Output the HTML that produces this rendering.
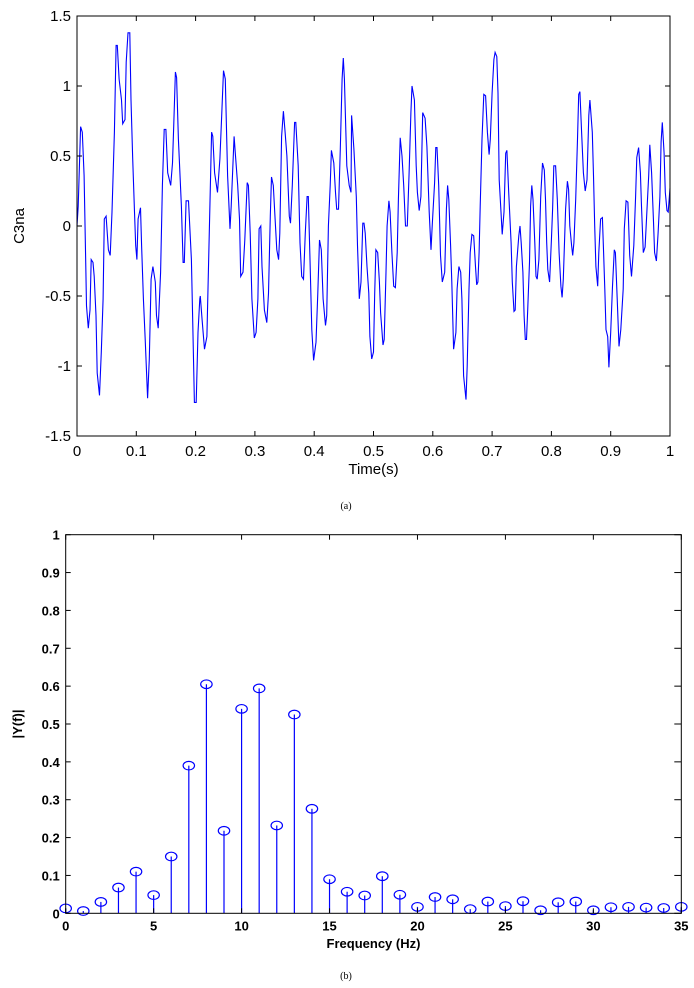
<!DOCTYPE html>
<html><head><meta charset="utf-8">
<style>
html,body{margin:0;padding:0;background:#fff;}
svg{display:block;font-family:"Liberation Sans",Arial,sans-serif;}
</style></head>
<body>
<svg id="fig" width="694" height="988" viewBox="0 0 694 988">
<g id="topchart"></g>
<g id="botchart"></g>
<text x="346" y="509" font-family="Liberation Serif,serif" font-size="10" text-anchor="middle">(a)</text>
<text x="346" y="979" font-family="Liberation Serif,serif" font-size="10" text-anchor="middle">(b)</text>
</svg>
<script>
const timeVals=[0,.002,.006,.009,.012,.015,.016,.019,.022,.024,.027,.029,.032,.034,.038,.041,.044,.046,.049,.053,.056,.059,.063,.066,.068,.071,.075,.077,.081,.083,.086,.089,.091,.094,.097,.099,.101,.103,.107,.109,.112,.115,.119,.122,.125,.128,.132,.134,.137,.141,.144,.147,.150,.153,.158,.161,.163,.166,.168,.171,.176,.179,.181,.184,.188,.193,.195,.198,.201,.204,.207,.208,.211,.215,.219,.222,.227,.229,.232,.237,.241,.244,.247,.250,.254,.258,.260,.265,.267,.271,.274,.276,.280,.283,.287,.289,.292,.295,.299,.302,.305,.307,.310,.312,.316,.320,.323,.326,.328,.331,.334,.337,.340,.342,.345,.348,.351,.354,.358,.360,.363,.367,.369,.373,.376,.379,.382,.385,.388,.390,.393,.396,.399,.403,.406,.409,.412,.415,.419,.421,.424,.427,.429,.433,.436,.438,.441,.444,.447,.449,.451,.455,.459,.462,
.463,.467,.471,.473,.476,.479,.482,.484,.486,.489,.492,.494,.497,.500,.502,.504,.507,.510,.512,.516,.518,.521,.523,.526,.528,.531,.534,.537,.540,.542,.545,.548,.551,.554,.557,.560,.563,.565,.569,.572,.574,.577,.580,.583,.587,.590,.594,.597,.599,.603,.605,.607,.610,.613,.616,.620,.623,.625,.627,.630,.632,.635,.639,.641,.644,.647,.649,.652,.656,.658,.661,.663,.666,.669,.672,.674,.676,.678,.680,.683,.686,.689,.692,.695,.697,.700,.703,.705,.708,.710,.712,.715,.717,.720,.723,.725,.728,.732,.734,.737,.739,.741,.745,.747,.749,.752,.754,.756,.758,.760,.763,.765,.767,.769,.772,.774,.776,.779,.782,.785,.788,.790,.792,.794,.797,.800,.802,.804,.807,.810,.813,.816,.818,.820,.824,.827,.829,.831,.834,.836,.838,.841,.844,.846,.848,.851,.854,.857,.860,.863,.865,.869,.871,.873,.875,.878,.880,.883,.886,.888,.890,.892,.895,.897,.900,.903,.906,.908,.911,.914,.917,.921,.923,.926,.929,.932,.935,.939,.942,.944,.947,.950,.952,.955,.958,.962,.964,.966,.969,.972,.974,.977,.980,.983,.985,.987,.990,.992,.995,.997,1.0];
const signalVals=[0,.14,.71,.67,.36,-.33,-.57,-.73,-.60,-.24,-.26,-.36,-.64,-1.05,-1.21,-.90,-.52,.05,.07,-.17,-.21,.10,.67,1.29,1.29,1.05,.90,.73,.76,1.17,1.38,1.38,.90,.48,.10,-.14,-.24,.05,.13,-.14,-.52,-.81,-1.23,-.95,-.38,-.29,-.40,-.64,-.73,-.33,.29,.69,.69,.38,.29,.45,.71,1.10,1.06,.62,.14,-.26,-.26,.18,.18,-.24,-.64,-1.26,-1.26,-.76,-.52,-.50,-.67,-.88,-.79,-.26,.67,.64,.38,.24,.48,.79,1.11,1.05,.36,-.02,.14,.64,.52,.29,.05,-.36,-.33,-.10,.31,.29,-.05,-.52,-.80,-.76,-.52,-.02,0,-.29,-.60,-.69,-.48,.07,.35,.29,.05,-.17,-.24,-.05,.64,.82,.67,.50,.07,.02,.29,.74,.74,.43,-.12,-.36,-.38,-.05,.21,.21,-.24,-.74,-.96,-.83,-.48,-.10,-.17,-.52,-.71,-.64,0,.29,.54,.45,.24,.12,.12,.55,1.05,1.20,1.05,.43,.29,.24,
.79,.55,.21,-.14,-.52,-.40,.02,.02,-.05,-.29,-.48,-.79,-.95,-.90,-.48,-.17,-.19,-.40,-.62,-.85,-.81,-.33,0,.18,.10,-.19,-.43,-.44,-.19,.19,.63,.50,.29,0,0,.38,.81,1.0,.90,.43,.24,.11,.21,.81,.77,.57,.10,-.17,0,.31,.56,.56,.29,-.21,-.40,-.33,.12,.29,.19,-.14,-.40,-.88,-.76,-.45,-.29,-.33,-.52,-1.07,-1.24,-1.0,-.45,-.19,-.06,-.07,-.29,-.42,-.40,-.19,.14,.62,.94,.93,.67,.51,.62,.95,1.19,1.24,1.21,.95,.33,.10,-.06,.10,.52,.54,.24,-.12,-.40,-.61,-.60,-.29,-.07,0,-.12,-.33,-.64,-.81,-.81,-.60,-.26,.14,.29,.19,-.12,-.36,-.38,-.24,.21,.45,.40,.19,-.12,-.31,-.40,-.10,.12,.43,.43,.19,-.19,-.43,-.51,-.38,.12,.32,.26,0,-.14,-.21,-.12,.19,.62,.94,.96,.67,.38,.25,.33,.79,.90,.67,.36,0,-.29,-.43,-.19,.05,.06,-.19,-.45,-.74,-.79,-1.01,-.76,-.43,-.17,-.19,-.52,-.86,-.74,-.45,-.02,.18,.17,-.21,-.36,-.14,.21,.49,.56,.38,.14,-.19,-.15,.19,.36,.58,.38,.05,-.19,-.25,-.05,.21,.60,.74,.52,.24,.11,.10,.27];
const xTicksTop=[0,0.1,0.2,0.3,0.4,0.5,0.6,0.7,0.8,0.9,1];
const xTickLabelsTop=["0","0.1","0.2","0.3","0.4","0.5","0.6","0.7","0.8","0.9","1"];
const yTicksTop=[-1.5,-1,-0.5,0,0.5,1,1.5];
const yTickLabelsTop=["-1.5","-1","-0.5","0","0.5","1","1.5"];
const freqs=[0,1,2,3,4,5,6,7,8,9,10,11,12,13,14,15,16,17,18,19,20,21,22,23,24,25,26,27,28,29,30,31,32,33,34,35];
const mags=[.013,.006,.03,.068,.11,.048,.15,.39,.605,.218,.54,.594,.232,.525,.276,.09,.057,.047,.098,.049,.017,.043,.037,.011,.031,.019,.032,.008,.029,.031,.008,.016,.017,.015,.014,.017];
const xTicksBot=[0,5,10,15,20,25,30,35];
const yTicksBot=[0,0.1,0.2,0.3,0.4,0.5,0.6,0.7,0.8,0.9,1];
const yTickLabelsBot=["0","0.1","0.2","0.3","0.4","0.5","0.6","0.7","0.8","0.9","1"];

const NS="http://www.w3.org/2000/svg";
function mk(parent,tag,attrs){const e=document.createElementNS(NS,tag);for(const k in attrs)e.setAttribute(k,attrs[k]);parent.appendChild(e);return e;}

// top chart
const T={l:77,r:670,t:16,b:436};
const tx=v=>T.l+v*(T.r-T.l);
const ty=v=>T.b-(v+1.5)/3*(T.b-T.t);
const topG=document.getElementById('topchart');
const nPts=Math.min(timeVals.length,signalVals.length);
const ptArr=[];
for(let i=0;i<nPts;i++){ptArr.push(tx(timeVals[i]).toFixed(1)+","+ty(signalVals[i]).toFixed(1));}
const line=mk(topG,'polyline',{points:ptArr.join(" "),fill:'none',stroke:'#0000ff','stroke-width':1.1});


const f1=mk(topG,'rect',{x:T.l,y:T.t,width:T.r-T.l,height:T.b-T.t,fill:'none',stroke:'#000','stroke-width':1});


xTicksTop.forEach((v,i)=>{
  const x=tx(v);
  mk(topG,'line',{x1:x,x2:x,y1:T.b,y2:T.b-5,stroke:'#000'});
  mk(topG,'line',{x1:x,x2:x,y1:T.t,y2:T.t+5,stroke:'#000'});
  const tl=mk(topG,'text',{x:x,y:T.b+20,'font-size':15,'text-anchor':'middle'});
  tl.textContent=xTickLabelsTop[i];
  
  
});
yTicksTop.forEach((v,i)=>{
  const y=ty(v);
  mk(topG,'line',{x1:T.l,x2:T.l+5,y1:y,y2:y,stroke:'#000'});
  mk(topG,'line',{x1:T.r,x2:T.r-5,y1:y,y2:y,stroke:'#000'});
  const tl=mk(topG,'text',{x:T.l-6,y:y+5,'font-size':15,'text-anchor':'end'});
  tl.textContent=yTickLabelsTop[i];
  
  
});
let xl=mk(topG,'text',{x:(T.l+T.r)/2,y:474,'font-size':15,'text-anchor':'middle'});xl.textContent="Time(s)";


let yl=mk(topG,'text',{x:0,y:0,'font-size':15,'text-anchor':'middle',transform:'translate(24,226) rotate(-90)'});yl.textContent="C3na";



// bottom chart
const B={l:65.7,r:681.3,t:534.7,b:913.3};
const bx=v=>B.l+v/35*(B.r-B.l);
const by=v=>B.b-v*(B.b-B.t);
const botG=document.getElementById('botchart');
freqs.forEach((f,i)=>{
  const x=bx(f),y=by(mags[i]);
  const s=mk(botG,'line',{x1:x,x2:x,y1:B.b,y2:y,stroke:'#0000ff','stroke-width':1.2});
  
  
  const m=mk(botG,'ellipse',{cx:x,cy:y,rx:5.7,ry:4.3,fill:'none',stroke:'#0000ff','stroke-width':1.2});
  
  
});
const f2=mk(botG,'rect',{x:B.l,y:B.t,width:B.r-B.l,height:B.b-B.t,fill:'none',stroke:'#000','stroke-width':1});


xTicksBot.forEach(v=>{
  const x=bx(v);
  mk(botG,'line',{x1:x,x2:x,y1:B.b,y2:B.b-5,stroke:'#000'});
  mk(botG,'line',{x1:x,x2:x,y1:B.t,y2:B.t+5,stroke:'#000'});
  const tl=mk(botG,'text',{x:x,y:B.b+17,'font-size':13,'font-weight':'bold','text-anchor':'middle'});
  tl.textContent=String(v);
  
  
});
yTicksBot.forEach((v,i)=>{
  const y=by(v);
  mk(botG,'line',{x1:B.l,x2:B.l+5,y1:y,y2:y,stroke:'#000'});
  mk(botG,'line',{x1:B.r,x2:B.r-7,y1:y,y2:y,stroke:'#000'});
  const tl=mk(botG,'text',{x:B.l-6,y:y+5,'font-size':13,'font-weight':'bold','text-anchor':'end'});
  tl.textContent=yTickLabelsBot[i];
  
  
});
xl=mk(botG,'text',{x:(B.l+B.r)/2,y:948,'font-size':13,'font-weight':'bold','text-anchor':'middle'});xl.textContent="Frequency (Hz)";


yl=mk(botG,'text',{x:0,y:0,'font-size':13,'font-weight':'bold','text-anchor':'middle',transform:'translate(22,724) rotate(-90)'});yl.textContent="|Y(f)|";


</script>
</body></html>
